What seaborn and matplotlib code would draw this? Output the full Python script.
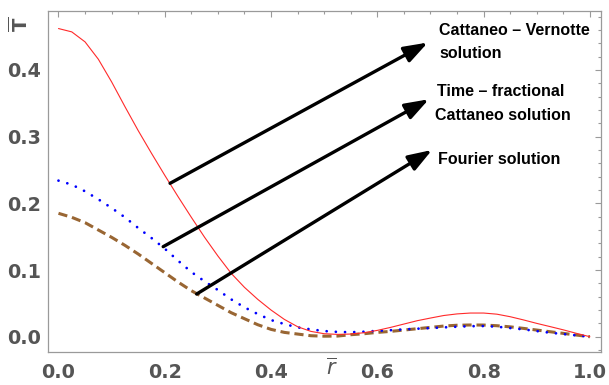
import numpy as np
import pandas as pd
import matplotlib
matplotlib.use("Agg")
import matplotlib.pyplot as plt
from matplotlib.ticker import MultipleLocator, FormatStrFormatter
import seaborn as sns

# ---- data ----
r_vals = [0.000, 0.025, 0.050, 0.075, 0.100, 0.125, 0.150, 0.175, 0.200, 0.225,
          0.250, 0.275, 0.300, 0.325, 0.350, 0.375, 0.400, 0.425, 0.450, 0.475,
          0.500, 0.525, 0.550, 0.575, 0.600, 0.625, 0.650, 0.675, 0.700, 0.725,
          0.750, 0.775, 0.800, 0.825, 0.850, 0.875, 0.900, 0.925, 0.950, 0.975, 1.000]
cattaneo_vernotte = [0.462, 0.457, 0.442, 0.416, 0.382, 0.345, 0.309, 0.275, 0.242, 0.210,
                     0.179, 0.149, 0.121, 0.095, 0.074, 0.056, 0.040, 0.026, 0.015, 0.008,
                     0.0045, 0.0035, 0.004, 0.006, 0.0095, 0.014, 0.019, 0.024, 0.028, 0.0318,
                     0.0342, 0.0355, 0.0355, 0.0338, 0.030, 0.0252, 0.020, 0.0152, 0.0103, 0.005, 0.0]
time_fractional = [0.234, 0.228, 0.218, 0.206, 0.193, 0.179, 0.163, 0.148, 0.132, 0.114,
                   0.097, 0.083, 0.070, 0.056, 0.044, 0.034, 0.025, 0.019, 0.014, 0.011,
                   0.0085, 0.0072, 0.0068, 0.0075, 0.0088, 0.0098, 0.011, 0.012, 0.013, 0.014,
                   0.015, 0.0158, 0.016, 0.015, 0.013, 0.011, 0.0085, 0.006, 0.004, 0.002, 0.0]
fourier = [0.185, 0.179, 0.171, 0.160, 0.149, 0.137, 0.124, 0.110, 0.096, 0.082,
           0.069, 0.058, 0.047, 0.036, 0.027, 0.018, 0.011, 0.0065, 0.004, 0.0015,
           0.0008, 0.001, 0.003, 0.0045, 0.0065, 0.008, 0.010, 0.012, 0.014, 0.016,
           0.0172, 0.0176, 0.0175, 0.0165, 0.0148, 0.0125, 0.010, 0.0075, 0.005, 0.0025, 0.0]

x_ticks = [0.0, 0.2, 0.4, 0.6, 0.8, 1.0]
y_ticks = [0.0, 0.1, 0.2, 0.3, 0.4]

df = pd.DataFrame({"r": r_vals, "cv": cattaneo_vernotte,
                   "tf": time_fractional, "fo": fourier})

sns.set_style("white")
plt.rcParams["font.family"] = ["DejaVu Sans"]
plt.rcParams["mathtext.fontset"] = "dejavusans"

W, H = 609, 385
fig = plt.figure(figsize=(W / 100, H / 100), dpi=100)
ax = fig.add_axes([47.7 / W, 1 - 352 / H, (601 - 47.7) / W, (352 - 11) / H])

sns.lineplot(data=df, x="r", y="fo", ax=ax, color="#996633", lw=2.2,
             linestyle=(0, (3.0, 1.6)))
sns.lineplot(data=df, x="r", y="tf", ax=ax, color="#0000ff", lw=2.0,
             linestyle=(0, (0.01, 3.3)), dash_capstyle="round")
sns.lineplot(data=df, x="r", y="cv", ax=ax, color="#ff2a2a", lw=0.8)

ax.set_xlim(-0.0203, 1.0209)
ax.set_ylim(-0.0229, 0.4883)

ax.xaxis.set_major_locator(MultipleLocator(0.2))
ax.xaxis.set_minor_locator(MultipleLocator(0.05))
ax.yaxis.set_major_locator(MultipleLocator(0.1))
ax.yaxis.set_minor_locator(MultipleLocator(0.02))
ax.set_xticks(x_ticks)
ax.set_yticks(y_ticks)
ax.xaxis.set_major_formatter(FormatStrFormatter("%.1f"))
ax.yaxis.set_major_formatter(FormatStrFormatter("%.1f"))

frame_col = "#9a9a9a"
for s in ax.spines.values():
    s.set_color(frame_col)
    s.set_linewidth(0.9)
    s.set_visible(True)
ax.tick_params(which="both", direction="in", top=True, right=True,
               color=frame_col, width=0.8)
ax.tick_params(which="major", length=4)
ax.tick_params(which="minor", length=2.2)
ax.tick_params(axis="x", which="major", pad=8)
ax.tick_params(axis="y", which="major", pad=5)
for lab in ax.get_xticklabels() + ax.get_yticklabels():
    lab.set_fontsize(13.8)
    lab.set_fontweight("bold")
    lab.set_color("#555555")

ax.set_xlabel(r"$\overline{r}$", fontsize=15, color="#555555")
ax.set_ylabel(r"$\overline{\mathbf{T}}$", fontsize=14, color="#555555", rotation=90)
ax.xaxis.set_label_coords((332 - 47.7) / (601 - 47.7), (352 - 368) / (352 - 11))
ax.xaxis.label.set_va("center")
ax.yaxis.set_label_coords((19.5 - 47.7) / (601 - 47.7), (352 - 24) / (352 - 11))
ax.yaxis.label.set_va("center")
ax.yaxis.label.set_ha("center")

# arrows
arrow_kw = dict(arrowstyle="-|>,head_length=0.8,head_width=0.28", color="black",
                lw=2.4, mutation_scale=18, shrinkA=0, shrinkB=0)
ax.annotate("", xy=(0.695, 0.441), xytext=(0.210, 0.230), arrowprops=arrow_kw)
ax.annotate("", xy=(0.697, 0.356), xytext=(0.197, 0.135), arrowprops=arrow_kw)
ax.annotate("", xy=(0.703, 0.280), xytext=(0.260, 0.064), arrowprops=arrow_kw)

# annotation texts (figure pixel placement)
txt_kw = dict(fontsize=11.5, fontweight="bold", color="black",
              family=["Liberation Sans", "DejaVu Sans"], va="baseline", ha="left")
def ftext(x, y, s):
    fig.text(x / W, 1 - y / H, s, **txt_kw)
ftext(439, 35, "Cattaneo \u2013 Vernotte")
ftext(439, 58.5, "solution")
ftext(437, 96.5, "Time \u2013 fractional")
ftext(435, 120.5, "Cattaneo solution")
ftext(438, 163.5, "Fourier solution")

fig.savefig("out.png", dpi=100)
